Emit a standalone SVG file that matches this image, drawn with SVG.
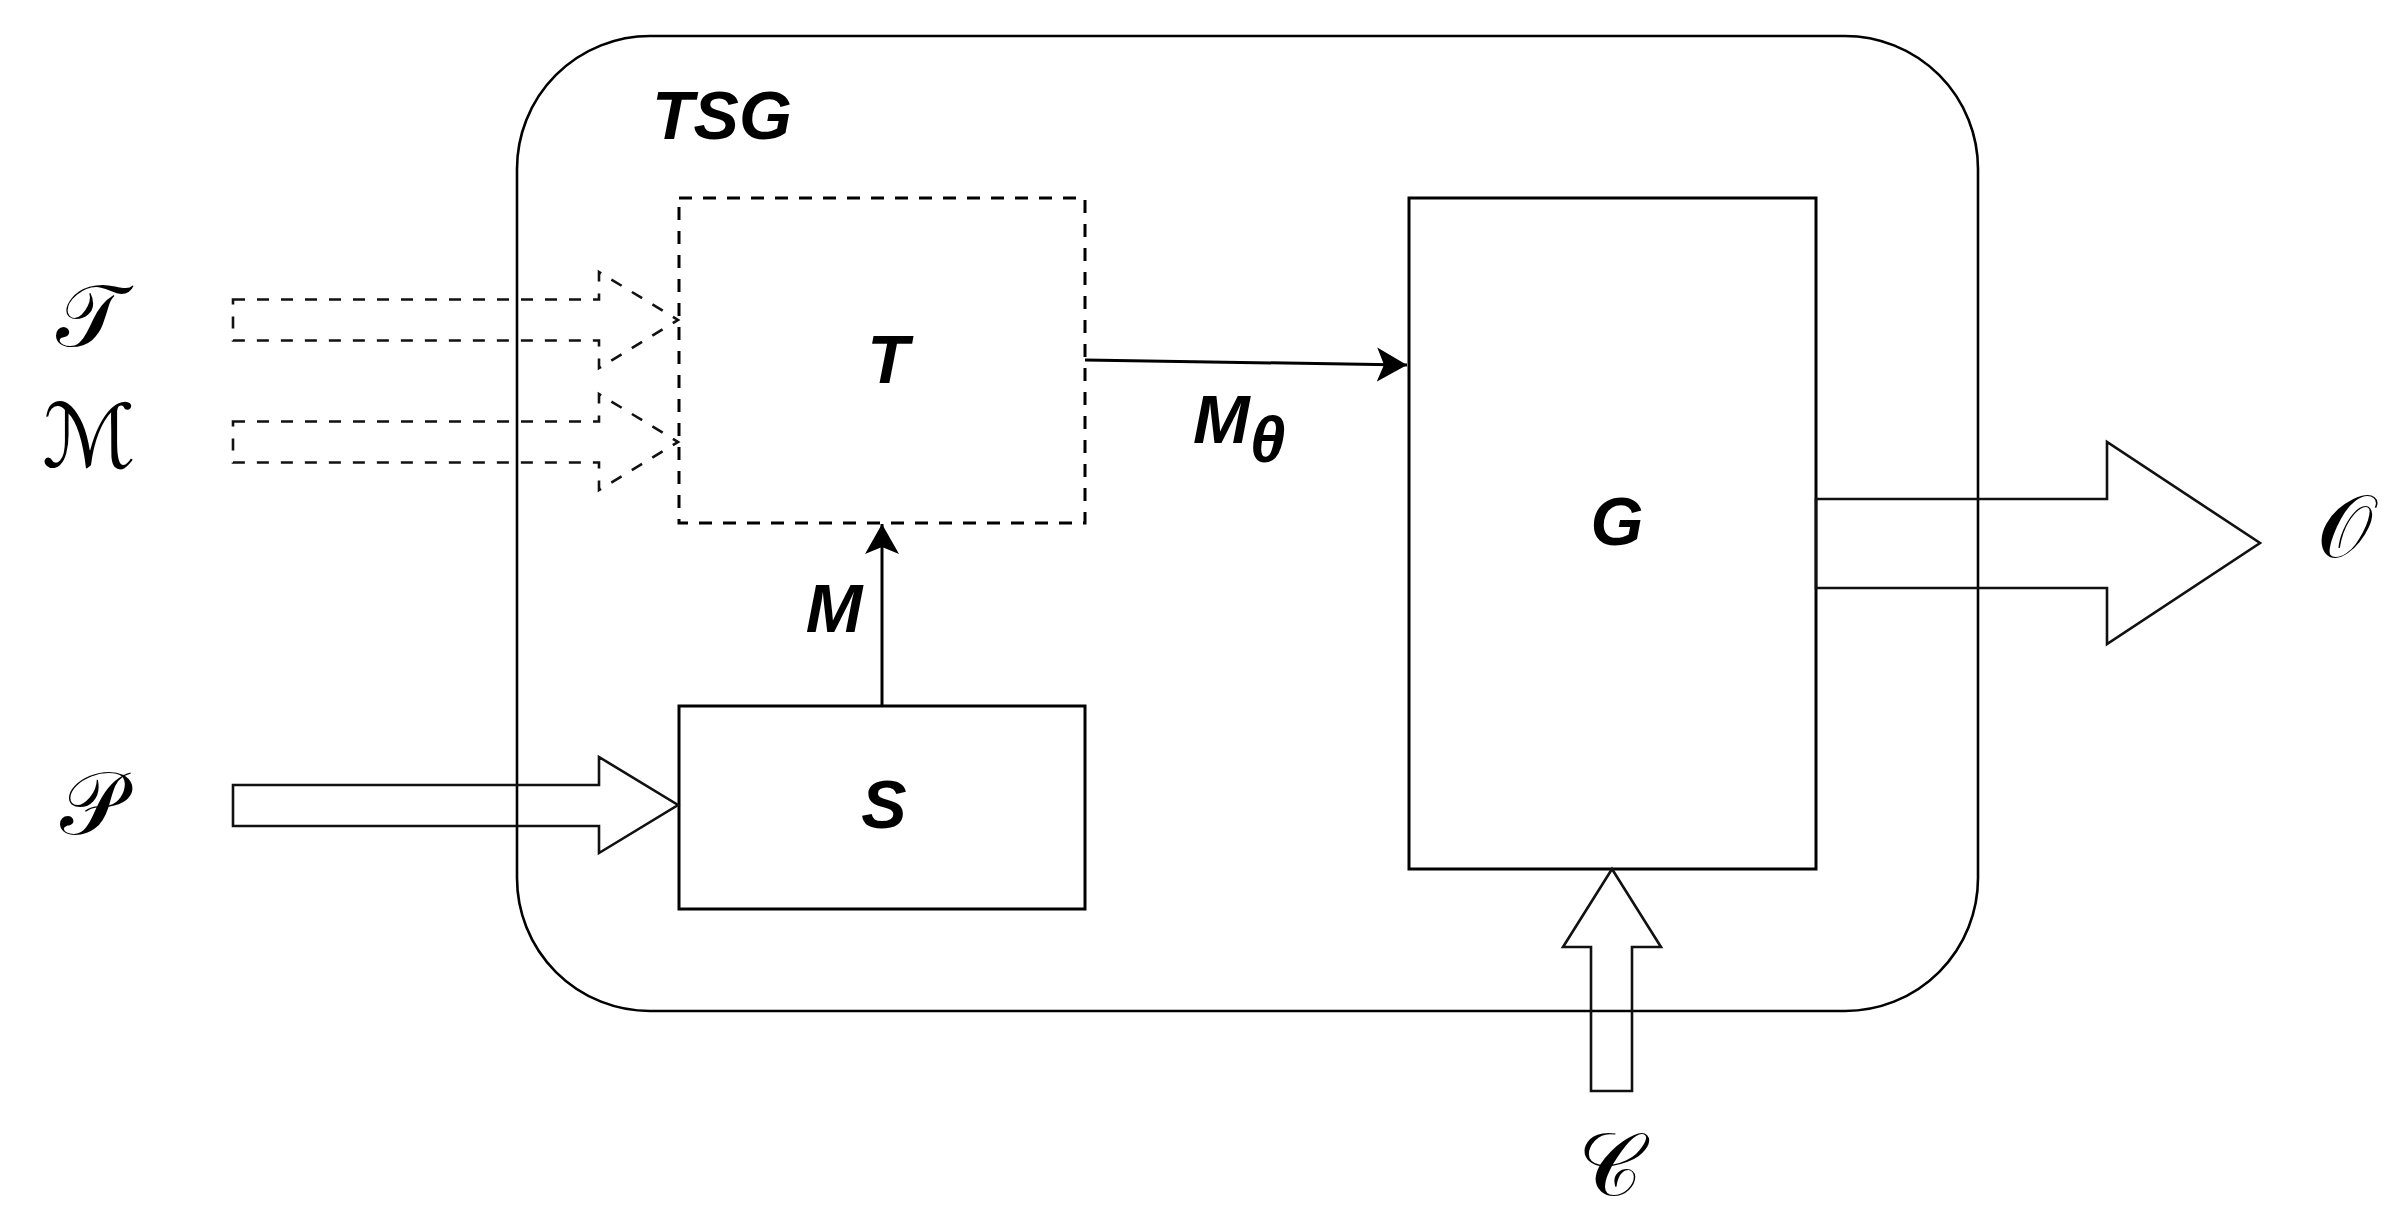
<svg xmlns="http://www.w3.org/2000/svg" width="2401" height="1226" viewBox="0 0 2401 1226">
<defs>
<style>
.box{fill:none;stroke:#000;stroke-width:3}
.dash{fill:none;stroke:#000;stroke-width:3;stroke-dasharray:13 11}
.big{fill:none;stroke:#111;stroke-width:2.6}
.bigd{fill:none;stroke:#111;stroke-width:2.6;stroke-dasharray:12 12}
.lbl{font-family:"Liberation Sans",Arial,sans-serif;font-weight:bold;font-style:italic;font-size:68px;fill:#000}
.scr{font-family:"DejaVu Sans","DejaVu Serif","Noto Sans",sans-serif;font-size:88px;fill:#000}
.ln{fill:none;stroke:#000;stroke-width:3}
</style>
<marker id="ah" markerUnits="userSpaceOnUse" markerWidth="34" markerHeight="36" refX="30" refY="18" orient="auto" viewBox="0 0 34 36">
<path d="M30,18 L0,1 L7,18 L0,35 Z" fill="#000"/>
</marker>
</defs>
<rect width="2401" height="1226" fill="#fff"/>
<g id="tsg">
<rect x="517" y="36" width="1461" height="975" rx="133" ry="133" fill="none" stroke="#000" stroke-width="2.6"/>
<text class="lbl" x="652" y="139">TSG</text>
</g>
<g id="nodeT">
<rect class="dash" x="679" y="198" width="406" height="325"/>
<text class="lbl" x="888" y="383" text-anchor="middle">T</text>
</g>
<g id="nodeS">
<rect class="box" x="679" y="706" width="406" height="203"/>
<text class="lbl" x="884" y="828" text-anchor="middle">S</text>
</g>
<g id="nodeG">
<rect class="box" x="1409" y="198" width="407" height="671"/>
<text class="lbl" x="1617" y="545" text-anchor="middle">G</text>
</g>
<g id="connectors">
<path class="bigd" d="M233,299.5 L599,299.5 L599,272 L678,320 L599,368 L599,340.5 L233,340.5 Z"/>
<path class="bigd" d="M233,421.5 L599,421.5 L599,394 L678,442 L599,490 L599,462.5 L233,462.5 Z"/>
<path class="big" d="M233,785 L599,785 L599,757 L678,805 L599,853 L599,826 L233,826 Z"/>
<path class="big" d="M1816,499 L2107,499 L2107,442 L2260,543 L2107,644 L2107,588 L1816,588 Z"/>
<path class="big" d="M1591,1091 L1591,947 L1563,947 L1612,869 L1661,947 L1632,947 L1632,1091 Z"/>
<line class="ln" x1="1085" y1="360" x2="1407" y2="365" marker-end="url(#ah)"/>
<line class="ln" x1="882" y1="706" x2="882" y2="524" marker-end="url(#ah)"/>
<text class="lbl" x="834" y="632" text-anchor="middle">M</text>
<text class="lbl" x="1193" y="443">M<tspan font-size="64px" dy="19">θ</tspan></text>
</g>
<g id="inputs">
<text class="scr" x="89" y="346" text-anchor="middle">𝒯</text>
<text class="scr" x="89" y="467" text-anchor="middle">ℳ</text>
<text class="scr" x="91" y="834" text-anchor="middle">𝒫</text>
<text class="scr" x="1610" y="1195" text-anchor="middle">𝒞</text>
<text class="scr" x="2344" y="557" text-anchor="middle">𝒪</text>
</g>
</svg>
